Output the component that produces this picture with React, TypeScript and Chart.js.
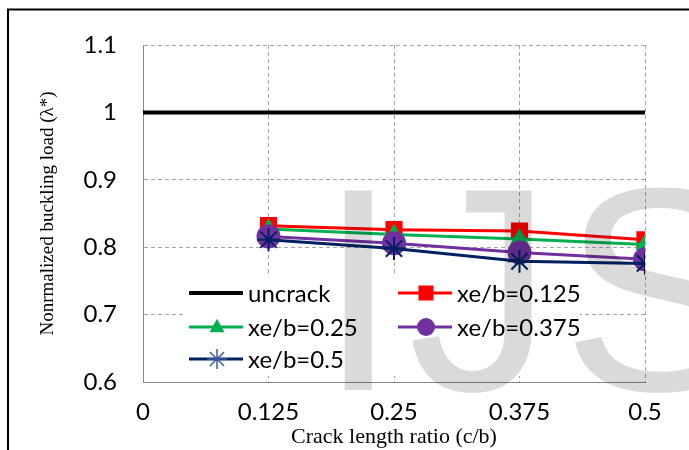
import React, { useEffect, useRef } from 'react';
import { Chart, registerables } from 'chart.js';

Chart.register(...registerables);

// ---- data ----
const crackRatios = [0.125, 0.25, 0.375, 0.5];
const uncrackX = [0, 0.125, 0.25, 0.375, 0.5];
const uncrackY = [1, 1, 1, 1, 1];
const xe0125 = [0.832, 0.826, 0.824, 0.811];
const xe025 = [0.827, 0.819, 0.812, 0.804];
const xe0375 = [0.816, 0.806, 0.792, 0.782];
const xe05 = [0.811, 0.798, 0.779, 0.776];
const seriesLabels = ['uncrack', 'xe/b=0.125', 'xe/b=0.25', 'xe/b=0.375', 'xe/b=0.5'];
const xTicks = [0, 0.125, 0.25, 0.375, 0.5];
const yTicks = [0.6, 0.7, 0.8, 0.9, 1, 1.1];
const xTitle = 'Crack length ratio (c/b)';
const yTitle = 'Nonrmalized buckling load (\u03bb*)';
const watermarkLetters = ['I', 'J', 'S'];

const TICK_FONT = 'Lato, "Open Sans", sans-serif';
const SERIF = '"Liberation Serif", "Times New Roman", serif';

const pts = (xs: number[], ys: number[]) => xs.map((x, i) => ({ x, y: ys[i] }));

function drawMarker(ctx: CanvasRenderingContext2D, style: string, x: number, y: number, r: number, color: string) {
  ctx.save();
  ctx.fillStyle = color;
  ctx.strokeStyle = color;
  ctx.lineWidth = 1.5;
  ctx.beginPath();
  if (style === 'rect') {
    ctx.fillRect(x - r, y - r, 2 * r, 2 * r);
  } else if (style === 'circle') {
    ctx.arc(x, y, r, 0, Math.PI * 2);
    ctx.fill();
  } else if (style === 'triangle') {
    ctx.moveTo(x, y - r * 1.1);
    ctx.lineTo(x + r, y + r * 0.7);
    ctx.lineTo(x - r, y + r * 0.7);
    ctx.closePath();
    ctx.fill();
  } else if (style === 'star') {
    for (let k = 0; k < 4; k++) {
      const a = (k * Math.PI) / 4;
      ctx.moveTo(x - r * Math.cos(a), y - r * Math.sin(a));
      ctx.lineTo(x + r * Math.cos(a), y + r * Math.sin(a));
    }
    ctx.stroke();
  }
  ctx.restore();
}

const legendPlugin = {
  id: 'customLegend',
  afterDatasetsDraw(chart: any) {
    const { ctx, chartArea } = chart;
    const ds = chart.data.datasets;
    const colX = [chartArea.left + 46, chartArea.left + 255];
    const rowY = [chartArea.top + 248, chartArea.top + 282, chartArea.top + 314];
    ctx.save();
    ctx.fillStyle = '#ffffff';
    ctx.fillRect(chartArea.left + 41, chartArea.top + 231, 396, 100);
    ctx.font = '24px ' + TICK_FONT;
    ctx.textBaseline = 'middle';
    ctx.textAlign = 'left';
    ds.forEach((d: any, i: number) => {
      const col = i % 2;
      const row = Math.floor(i / 2);
      const x0 = colX[col];
      const y = rowY[row];
      ctx.strokeStyle = d.borderColor;
      ctx.lineWidth = d.borderWidth;
      ctx.beginPath();
      ctx.moveTo(x0, y);
      ctx.lineTo(x0 + 54, y);
      ctx.stroke();
      if (d.legendMarker) {
        drawMarker(ctx, d.legendMarker, x0 + 28, y, d.legendRadius, d.legendColor || d.borderColor);
      }
      ctx.fillStyle = '#000';
      ctx.fillText(d.label, x0 + 59, y + 1);
    });
    ctx.restore();
  },
};

const overlayPlugin = {
  id: 'overlay',
  afterDraw(chart: any) {
    const { ctx } = chart;
    ctx.save();
    // frame
    ctx.strokeStyle = '#000';
    ctx.lineWidth = 2;
    ctx.beginPath();
    ctx.moveTo(7, 9.5);
    ctx.lineTo(689, 9.5);
    ctx.moveTo(8, 9);
    ctx.lineTo(8, 450);
    ctx.stroke();
    // watermark
    ctx.globalCompositeOperation = 'multiply';
    ctx.fillStyle = '#dadada';
    ctx.font = '290px "Liberation Sans", Arial, sans-serif';
    ctx.textBaseline = 'alphabetic';
    ctx.textAlign = 'left';
    const xs = [318, 408, 562];
    watermarkLetters.forEach((l, i) => ctx.fillText(l, xs[i], 390));
    ctx.restore();
  },
};

export default function App() {
  const ref = useRef<HTMLCanvasElement | null>(null);
  useEffect(() => {
    if (!ref.current) return;
    const chart = new Chart(ref.current, {
      type: 'line',
      data: {
        datasets: [
          {
            label: seriesLabels[0],
            data: pts(uncrackX, uncrackY),
            borderColor: '#000000',
            backgroundColor: '#000000',
            borderWidth: 4,
            pointRadius: 0,
            order: 4,
            legendMarker: null,
          } as any,
          {
            label: seriesLabels[1],
            data: pts(crackRatios, xe0125),
            borderColor: '#ff0000',
            backgroundColor: '#ff0000',
            borderWidth: 3,
            pointStyle: 'rect',
            pointRadius: 10,
            order: 3,
            legendMarker: 'rect',
            legendRadius: 7.5,
          } as any,
          {
            label: seriesLabels[2],
            data: pts(crackRatios, xe025),
            borderColor: '#00b050',
            backgroundColor: '#00b050',
            borderWidth: 3,
            pointStyle: 'triangle',
            pointRadius: 8,
            order: 2,
            legendMarker: 'triangle',
            legendRadius: 7.5,
          } as any,
          {
            label: seriesLabels[3],
            data: pts(crackRatios, xe0375),
            borderColor: '#7030a0',
            backgroundColor: '#7030a0',
            borderWidth: 3,
            pointStyle: 'circle',
            pointRadius: 10.5,
            order: 1,
            legendMarker: 'circle',
            legendRadius: 9,
          } as any,
          {
            label: seriesLabels[4],
            data: pts(crackRatios, xe05),
            borderColor: '#002060',
            backgroundColor: '#002060',
            borderWidth: 3,
            pointStyle: 'star',
            pointRadius: 11.5,
            pointBorderWidth: 2,
            order: 0,
            legendMarker: 'star',
            legendRadius: 10,
            legendColor: '#3a5a9c',
          } as any,
        ],
      },
      options: {
        animation: false,
        responsive: false,
        devicePixelRatio: 1,
        layout: { padding: { top: 45, right: 44, left: 0, bottom: 0 } },
        plugins: { legend: { display: false }, tooltip: { enabled: false } },
        elements: { line: { tension: 0 } },
        scales: {
          x: {
            type: 'linear',
            min: 0,
            max: 0.5,
            afterBuildTicks: (s: any) => {
              s.ticks = xTicks.map((v) => ({ value: v }));
            },
            afterFit: (s: any) => {
              s.height = 68;
            },
            ticks: {
              callback: (v: any) => String(v),
              font: { family: TICK_FONT, size: 24 },
              color: '#000',
              padding: 16,
              maxRotation: 0,
              autoSkip: false,
            },
            grid: { color: '#a6a6a6', lineWidth: 1, drawTicks: false },
            border: { display: true, color: '#868686', width: 1, dash: [4, 3] },
            title: {
              display: true,
              text: xTitle,
              font: { family: SERIF, size: 22 },
              color: '#000',
              padding: { top: 0, bottom: 0 },
            },
          },
          y: {
            type: 'linear',
            min: 0.6,
            max: 1.1,
            afterBuildTicks: (s: any) => {
              s.ticks = yTicks.map((v) => ({ value: v }));
            },
            afterFit: (s: any) => {
              s.width = 143;
            },
            ticks: {
              callback: (v: any) => String(v),
              font: { family: TICK_FONT, size: 24 },
              color: '#000',
              padding: 26,
            },
            grid: { color: '#a6a6a6', lineWidth: 1, drawTicks: false },
            border: { display: true, color: '#868686', width: 1, dash: [4, 3] },
            title: {
              display: true,
              text: yTitle,
              font: { family: SERIF, size: 19 },
              color: '#000',
              padding: { top: 37, bottom: 0 },
            },
          },
        },
      } as any,
      plugins: [legendPlugin, overlayPlugin],
    });
    return () => chart.destroy();
  }, []);
  return (
    <div style={{ position: 'fixed', left: 0, top: 0, width: 689, height: 450, background: '#fff' }}>
      <canvas ref={ref} width={689} height={450} />
    </div>
  );
}
